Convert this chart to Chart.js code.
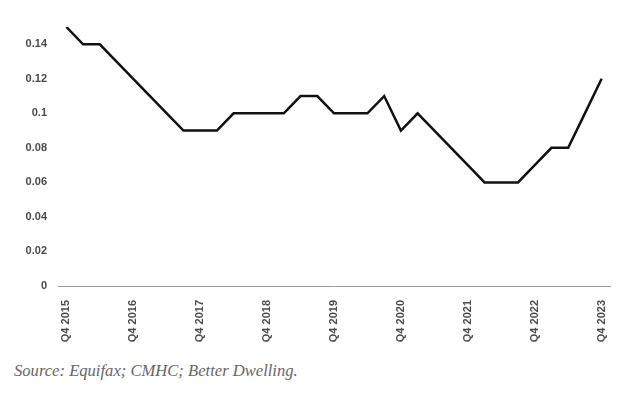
<!DOCTYPE html>
<html>
<head>
<meta charset="utf-8">
<script src="https://cdn.jsdelivr.net/npm/chart.js@4/dist/chart.umd.min.js"></script>
<style>
  html, body { margin: 0; padding: 0; background: #fff; width: 640px; height: 395px; overflow: hidden; }
  #wrap { position: absolute; left: 0; top: 0; width: 640px; height: 350px; }
  #src { position: absolute; left: 14px; top: 361px; font-family: "Liberation Serif", "DejaVu Serif", serif; font-style: italic; font-size: 16.6px; color: #666; white-space: nowrap; }
</style>
</head>
<body>
<div id="wrap"><canvas id="c"></canvas></div>
<div id="src">Source: Equifax; CMHC; Better Dwelling.</div>
<script>
const categories = [
  "Q4 2015","Q1 2016","Q2 2016","Q3 2016",
  "Q4 2016","Q1 2017","Q2 2017","Q3 2017",
  "Q4 2017","Q1 2018","Q2 2018","Q3 2018",
  "Q4 2018","Q1 2019","Q2 2019","Q3 2019",
  "Q4 2019","Q1 2020","Q2 2020","Q3 2020",
  "Q4 2020","Q1 2021","Q2 2021","Q3 2021",
  "Q4 2021","Q1 2022","Q2 2022","Q3 2022",
  "Q4 2022","Q1 2023","Q2 2023","Q3 2023",
  "Q4 2023"
];
const values = [
  0.15, 0.14, 0.14, 0.13,
  0.12, 0.11, 0.10, 0.09,
  0.09, 0.09, 0.10, 0.10,
  0.10, 0.10, 0.11, 0.11,
  0.10, 0.10, 0.10, 0.11,
  0.09, 0.10, 0.09, 0.08,
  0.07, 0.06, 0.06, 0.06,
  0.07, 0.08, 0.08, 0.10,
  0.12
];
const yTickValues = [0, 0.02, 0.04, 0.06, 0.08, 0.10, 0.12, 0.14];
const xTickLabels = ["Q4 2015","Q4 2016","Q4 2017","Q4 2018","Q4 2019","Q4 2020","Q4 2021","Q4 2022","Q4 2023"];

new Chart(document.getElementById('c'), {
  type: 'line',
  data: {
    labels: categories,
    datasets: [{
      data: values,
      borderColor: '#111',
      borderWidth: 2.5,
      pointRadius: 0,
      tension: 0,
      fill: false
    }]
  },
  options: {
    responsive: true,
    maintainAspectRatio: false,
    animation: false,
    layout: { padding: { top: 27, right: 30, left: 0, bottom: 0 } },
    plugins: { legend: { display: false }, tooltip: { enabled: false } },
    scales: {
      x: {
        offset: true,
        grid: { display: false, drawTicks: false },
        border: { display: true, color: '#999', width: 1 },
        ticks: {
          autoSkip: false,
          maxRotation: 90,
          minRotation: 90,
          padding: 14,
          color: '#4a4a4a',
          font: { family: 'Liberation Sans, Arial, sans-serif', size: 11, weight: 'bold' },
          callback: function(v, i) {
            const lab = categories[i];
            return xTickLabels.includes(lab) ? lab : '';
          }
        },
        afterFit: function(s) { s.height = 64; }
      },
      y: {
        min: 0,
        max: 0.15,
        grid: { display: false, drawTicks: false },
        border: { display: false },
        afterBuildTicks: function(s) { s.ticks = yTickValues.map(v => ({ value: v })); },
        ticks: {
          padding: 11,
          color: '#4a4a4a',
          font: { family: 'Liberation Sans, Arial, sans-serif', size: 11, weight: 'bold' },
          callback: function(v) { return String(Number(v.toFixed(2))); }
        },
        afterFit: function(s) { s.width = 58; }
      }
    }
  }
});
</script>
</body>
</html>
